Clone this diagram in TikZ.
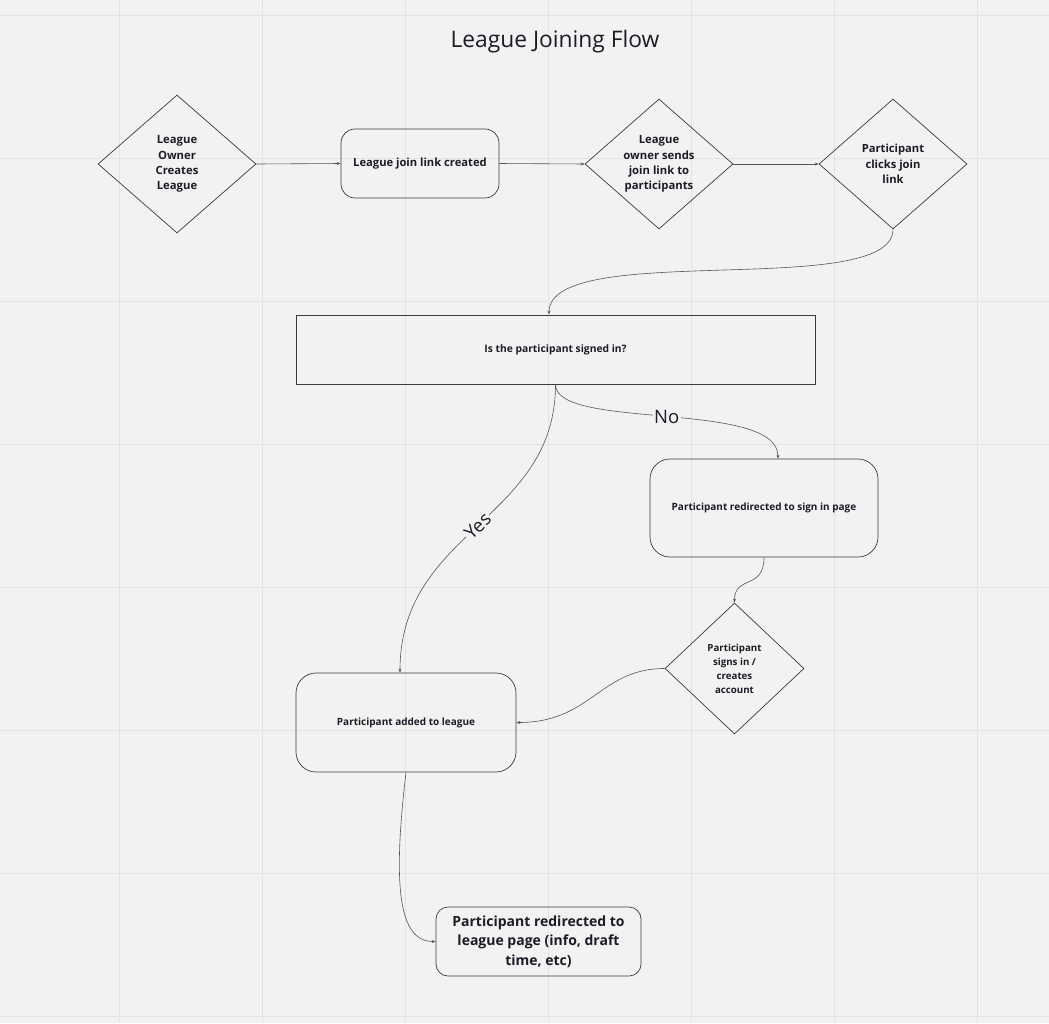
\documentclass[tikz,border=0pt]{standalone}
\usepackage{fontspec}
\setmainfont{Open Sans}
\usetikzlibrary{shapes.geometric,arrows.meta,calc}
\definecolor{bg}{HTML}{F2F2F2}
\definecolor{gridc}{HTML}{E3E3E3}
\definecolor{edge}{HTML}{3A3A3A}
\definecolor{linec}{HTML}{555555}
\definecolor{txt}{HTML}{1C1C26}
\begin{document}
\begin{tikzpicture}[x=1pt,y=-1pt,
  dia/.style={diamond, draw=edge, line width=0.7pt, inner sep=0pt, align=center, text=txt,
    font=\fontsize{11.3}{15.3}\selectfont\bfseries},
  rbox/.style={rectangle, draw=edge, line width=0.7pt, rounded corners=18pt, inner sep=0pt, align=center, text=txt,
    font=\fontsize{10}{12}\selectfont\bfseries},
  conn/.style={draw=linec, line width=0.6pt, -{Stealth[length=4pt,width=3pt]}},
  lbl/.style={fill=bg, inner sep=1.5pt, text=txt, font=\fontsize{18.5}{20}\selectfont}
]
\fill[bg] (0,0) rectangle (1049,1023);
\useasboundingbox (0,0) rectangle (1049,1023);
\foreach \gx in {119,262,405,548,691,834,977} \draw[gridc,line width=1pt] (\gx,0) -- (\gx,1023);
\foreach \gy in {15,158,301,444,587,730,873,1016} \draw[gridc,line width=1pt] (0,\gy) -- (1049,\gy);

\node[text=txt, font=\fontsize{22.8}{26}\selectfont] (title) at (555,42) {League Joining Flow};

\node[dia, minimum width=158pt, minimum height=138pt] (d1) at (177,164) {League\\Owner\\Creates\\League};
\node[rbox, rounded corners=14pt, minimum width=158pt, minimum height=69pt, font=\fontsize{11.2}{13}\selectfont\bfseries] (r2) at (420,163.5) {League join link created};
\node[dia, minimum width=148pt, minimum height=130pt] (d2) at (659,164) {League\\owner sends\\join link to\\participants};
\node[dia, minimum width=148pt, minimum height=130pt, font=\fontsize{11.2}{15.3}\selectfont\bfseries] (d3) at (893,164) {Participant\\clicks join\\link};

\node[rectangle, draw=edge, line width=1pt, minimum width=519pt, minimum height=69pt, inner sep=0pt, text=txt,
  font=\fontsize{10.3}{12}\selectfont\bfseries] (r5) at (555.5,349.5) {Is the participant signed in?};

\node[rbox, rounded corners=20pt, minimum width=228pt, minimum height=98pt, font=\fontsize{10}{12}\selectfont\bfseries] (r6) at (764,508) {Participant redirected to sign in page};

\node[dia, minimum width=139pt, minimum height=131pt, font=\fontsize{9.7}{14}\selectfont\bfseries] (d4) at (734.5,668.5) {Participant\\signs in /\\creates\\account};

\node[rbox, rounded corners=20pt, minimum width=220pt, minimum height=99pt] (r8) at (406,722.5) {Participant added to league};

\node[rbox, rounded corners=12pt, minimum width=205pt, minimum height=69pt, font=\fontsize{14}{19.5}\selectfont\bfseries] (f) at (538.5,941.5) {Participant redirected to\\league page (info, draft\\time, etc)};

\draw[conn] (d1.east) -- (r2.west);
\draw[conn] (r2.east) -- (d2.west);
\draw[conn] (d2.east) -- (d3.west);
\draw[conn] (d3.south) .. controls +(0,71) and +(0,-75) .. ([xshift=-6.5pt]r5.north);
\draw[conn] (r5.south) .. controls +(0,46) and +(0,-59) .. ([xshift=14pt]r6.north) node[pos=0.5, lbl] {No};
\draw[conn] (r5.south) .. controls +(0,136) and +(0,-143) .. ([xshift=-6pt]r8.north) node[pos=0.5, lbl, sloped] {Yes};
\draw[conn] (r6.south) .. controls +(0,33) and +(0,-28) .. (d4.north);
\draw[conn] (d4.west) .. controls +(-65,0) and +(75,0) .. (r8.east);
\draw[conn] (r8.south) .. controls +(-14,118) and +(-36,0) .. (f.west);
\end{tikzpicture}
\end{document}
